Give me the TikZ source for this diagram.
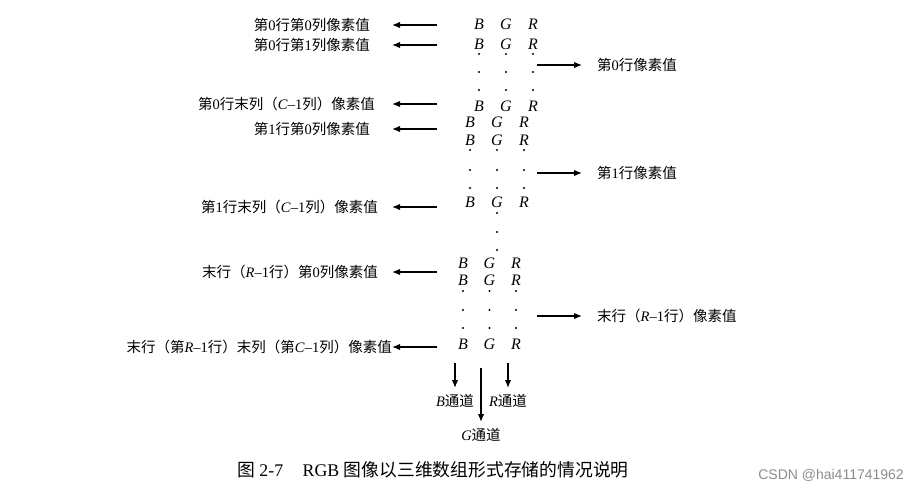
\documentclass[tikz,border=0pt]{standalone}
\usepackage{fontspec}
\setmainfont{Liberation Serif}
\newfontfamily\cjk{Noto Sans CJK SC}
\newfontfamily\wmfont{Liberation Sans}
\newcommand{\zh}[1]{{\cjk #1}}
\usepackage{tikz}
\usetikzlibrary{positioning, arrows.meta}

\tikzset{
  lbl/.style={inner sep=0pt, font=\fontsize{14.5}{17}\selectfont},
  ch/.style={inner sep=0pt, font=\fontsize{16}{18}\selectfont\itshape},
  arr/.style={line width=1.4pt, ->},
}

\begin{document}
\begin{tikzpicture}[x=1pt, y=-1pt, >={Latex[length=8pt,width=6.5pt]}]
\useasboundingbox (0,0) rectangle (918,493);

% the B G R values, one row per pixel
\foreach \r/\x/\y/\d in {a/479/24/27, b/479/44/27, c/479/106/27,
                         d/470/122/27, e/470/140/27, f/470/202/27,
                         g/463/263/26.5, h/463/280/26.5, i/463/344/26.5}{
  \node[ch] (\r B) at (\x,\y) {B};
  \node[ch] (\r G) at (\x+\d,\y) {G};
  \node[ch] (\r R) at (\x+2*\d,\y) {R};
}

% vertical dots
\foreach \x/\y/\d in {479/54/27, 479/72/27, 479/90/27,
                      470/150/27, 470/170/27, 470/188/27,
                      463/291/26.5, 463/310/26.5, 463/328/26.5}
  \foreach \k in {0,1,2}
    \fill (\x+\k*\d,\y) circle (1.1pt);
\foreach \y in {213,232,250}
  \fill (497,\y) circle (1.1pt);

% left: single pixel values
\coordinate (s1) at (437,25);  \coordinate (h1) at (392,25);
\coordinate (s2) at (437,45);  \coordinate (h2) at (392,45);
\coordinate (s3) at (437,104); \coordinate (h3) at (392,104);
\coordinate (s4) at (437,129); \coordinate (h4) at (392,129);
\coordinate (s5) at (437,207); \coordinate (h5) at (392,207);
\coordinate (s6) at (437,272); \coordinate (h6) at (392,272);
\coordinate (s7) at (437,347); \coordinate (h7) at (392,347);
\foreach \n in {1,...,7}
  \draw[arr] (s\n) -- (h\n);

\node[lbl, left=22pt of h1] (l1) {\zh{第}0\zh{行第}0\zh{列像素值}};
\node[lbl, left=22pt of h2] (l2) {\zh{第}0\zh{行第}1\zh{列像素值}};
\node[lbl, left=17pt of h3] (l3) {\zh{第}0\zh{行末列（}\textit{C}–1\zh{列）像素值}};
\node[lbl, left=22pt of h4] (l4) {\zh{第}1\zh{行第}0\zh{列像素值}};
\node[lbl, left=14pt of h5] (l5) {\zh{第}1\zh{行末列（}\textit{C}–1\zh{列）像素值}};
\node[lbl, left=14pt of h6] (l6) {\zh{末行（}\textit{R}–1\zh{行）第}0\zh{列像素值}};
\node[lbl, left=0pt of h7] (l7) {\zh{末行（第}\textit{R}–1\zh{行）末列（第}\textit{C}–1\zh{列）像素值}};

% right: whole rows
\coordinate (p1) at (537,65);  \coordinate (q1) at (582,65);
\coordinate (p2) at (537,173); \coordinate (q2) at (582,173);
\coordinate (p3) at (537,316); \coordinate (q3) at (582,316);
\foreach \n in {1,2,3}
  \draw[arr] (p\n) -- (q\n);
\node[lbl, right=15pt of q1] (m1) {\zh{第}0\zh{行像素值}};
\node[lbl, right=15pt of q2] (m2) {\zh{第}1\zh{行像素值}};
\node[lbl, right=15pt of q3] (m3) {\zh{末行（}\textit{R}–1\zh{行）像素值}};

% channels
\coordinate (bt) at (455,363); \coordinate (bh) at (455,388);
\coordinate (gt) at (481,368); \coordinate (gh) at (481,422);
\coordinate (rt) at (508,363); \coordinate (rh) at (508,388);
\draw[arr] (bt) -- (bh);
\draw[arr] (gt) -- (gh);
\draw[arr] (rt) -- (rh);
\node[lbl, below=6pt of bh] (bch) {\textit{B}\zh{通道}};
\node[lbl, below=6pt of rh] (rch) {\textit{R}\zh{通道}};
\node[lbl, below=6pt of gh] (gch) {\textit{G}\zh{通道}};

% caption
\node[inner sep=0pt, anchor=west, font=\fontsize{17.8}{20}\selectfont] (cap) at (237,470)
  {\zh{图} 2-7\hspace{1.1em}RGB \zh{图像以三维数组形式存储的情况说明}};
\node[inner sep=0pt, anchor=east, text=black!45, font=\wmfont\fontsize{14}{16}\selectfont] (mark) at (904,475)
  {CSDN @hai411741962};
\end{tikzpicture}
\end{document}
